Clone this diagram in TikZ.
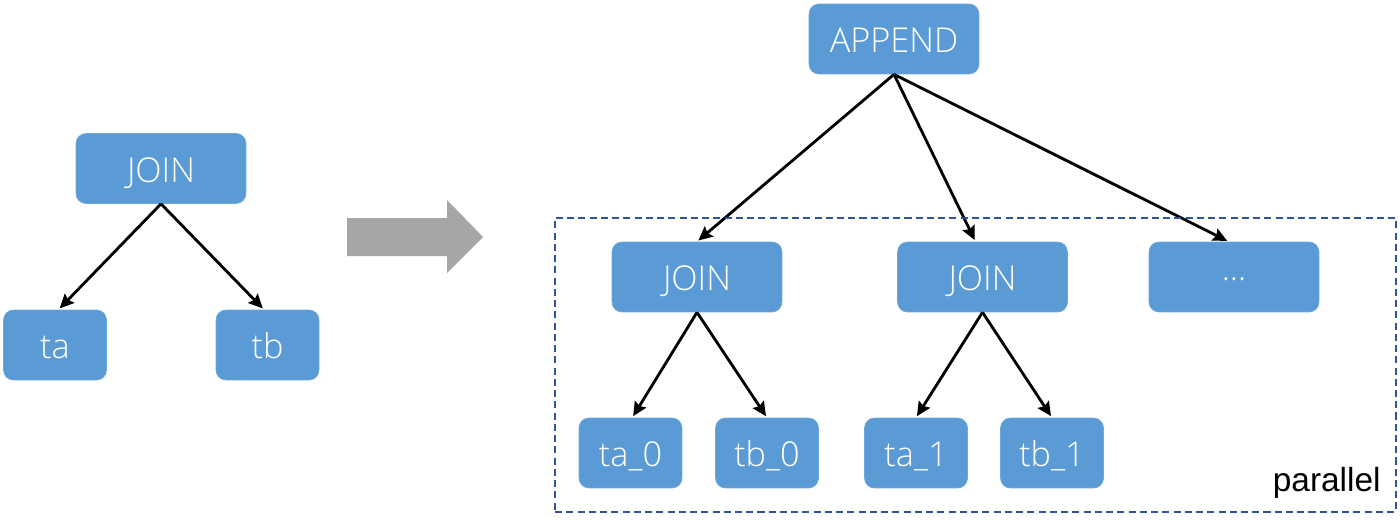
\documentclass[tikz,border=0pt]{standalone}
\usepackage{fontspec}
\setmainfont{Open Sans Light}
\newfontfamily\arialfont{Liberation Sans}
\usetikzlibrary{arrows.meta}
\definecolor{boxblue}{HTML}{5B9BD5}
\definecolor{boxedge}{HTML}{6FA8DC}
\definecolor{frameblue}{HTML}{2F5597}
\definecolor{shiftgray}{HTML}{A6A6A6}

\begin{document}
\begin{tikzpicture}[
  x=0.02cm,y=-0.02cm,
  font=\fontsize{19.5}{21}\selectfont,
  op/.style={draw=boxedge,line width=0.4pt,fill=boxblue,text=white,rounded corners=0.2cm,
             minimum width=3.4cm,minimum height=1.4cm,inner sep=0pt,
             text height=17pt,text depth=1.3pt},
  tbl/.style={op,minimum width=2.06cm},
  edge/.style={-{Stealth[length=8pt,width=7.5pt,inset=1.2pt]},line width=1.6pt,black,
               shorten >=1pt},
]
\useasboundingbox (0,0) rectangle (1400,521);

% before: one join over two tables
\node[op]  (join)  at (161,168.5) {JOIN};
\node[tbl] (ta)    at (55,345)    {ta};
\node[tbl] (tb)    at (267.5,345) {tb};
\draw[edge] (join.south) -- ([xshift=2pt]ta.north);
\draw[edge] (join.south) -- ([xshift=-2pt]tb.north);

% rewrite arrow
\fill[shiftgray] (347,218) -- (447,218) -- (447,200) -- (483,237)
  -- (447,273) -- (447,256) -- (347,256) -- cycle;

% after: append over partition-wise joins
\node[op]  (append) at (894,39)    {APPEND};
\node[op]  (join0)  at (697,277)   {JOIN};
\node[op]  (join1)  at (982.5,277) {JOIN};
\node[op]  (more)   at (1234,277)  {\raisebox{6pt}{...}};
\node[tbl] (ta0)    at (630.5,453) {ta\_0};
\node[tbl] (tb0)    at (767,453)   {tb\_0};
\node[tbl] (ta1)    at (916,453)   {ta\_1};
\node[tbl] (tb1)    at (1052,453)  {tb\_1};

\draw[edge] (append.south) -- (join0.north);
\draw[edge] (append.south) -- ([xshift=-4pt]join1.north);
\draw[edge] (append.south) -- ([xshift=-3pt]more.north);
\draw[edge] (join0.south) -- ([xshift=1pt]ta0.north);
\draw[edge] (join0.south) -- (tb0.north);
\draw[edge] (join1.south) -- (ta1.north);
\draw[edge] (join1.south) -- (tb1.north);

% parallel region
\node[draw=frameblue,dash pattern=on 4pt off 2.4pt,line width=0.9pt,
      minimum width=16.82cm,minimum height=5.88cm,inner sep=0pt] (par) at (975.5,365) {};
\node[anchor=south east,font=\arialfont\fontsize{19}{21}\selectfont,inner sep=0pt]
  (partag) at ([xshift=-9pt,yshift=8pt]par.south east) {parallel};
\end{tikzpicture}
\end{document}
